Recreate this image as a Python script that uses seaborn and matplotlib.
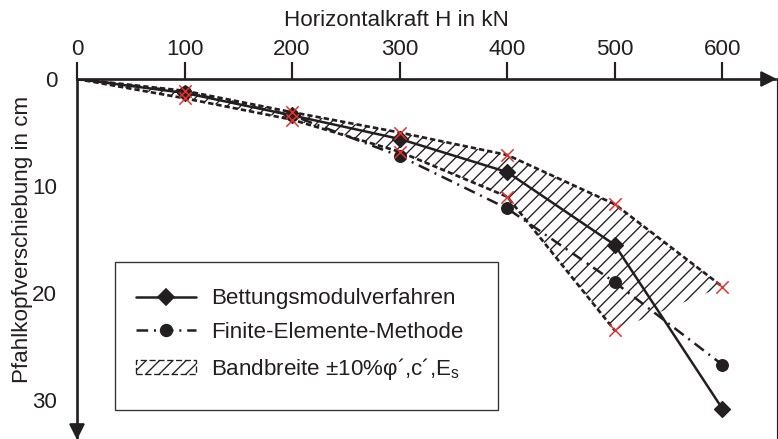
import numpy as np
import pandas as pd
import matplotlib
matplotlib.use("Agg")
import matplotlib.pyplot as plt
import matplotlib.transforms as mtransforms
from matplotlib.patches import Patch, Rectangle
from matplotlib.lines import Line2D
import seaborn as sns

# ---- data ----
H = [0, 100, 200, 300, 400, 500, 600]
bettung = [0, 1.3, 3.4, 5.6, 8.7, 15.5, 30.8]
fem = [0, 1.2, 3.4, 7.2, 12.1, 19.0, 26.7]
H_band_upper = [0, 100, 200, 300, 400, 500, 600]
band_upper = [0, 1.1, 3.1, 5.0, 7.1, 11.7, 19.4]
H_band_lower = [0, 100, 200, 300, 400, 500]
band_lower = [0, 1.8, 3.8, 6.8, 11.0, 23.5]
x_ticks = [0, 100, 200, 300, 400, 500, 600]
y_ticks = [0, 10, 20, 30]

label_bett = "Bettungsmodulverfahren"
label_fem = "Finite-Elemente-Methode"
label_band = r"Bandbreite ±10%φ´,c´,E$_\mathregular{s}$"
xlabel = "Horizontalkraft H in kN"
ylabel = "Pfahlkopfverschiebung in cm"

sns.set_theme(style="white")
plt.rcParams["font.family"] = ["Liberation Sans", "DejaVu Sans"]
plt.rcParams["mathtext.fontset"] = "custom"
plt.rcParams["mathtext.rm"] = "Liberation Sans"
plt.rcParams["hatch.linewidth"] = 0.8
plt.rcParams["lines.scale_dashes"] = False

INK = "#231f20"
RED = "#e8302a"
FS = 13.4
W, Hpx, DPI = 778, 439, 120

fig = plt.figure(figsize=(W / DPI, Hpx / DPI), dpi=DPI)
ax_l, ax_r, ax_t, ax_b = 77, 775, 79, 438
ax = fig.add_axes([ax_l / W, 1 - ax_b / Hpx, (ax_r - ax_l) / W, (ax_b - ax_t) / Hpx])

# hatched band
poly_x = list(H_band_upper) + list(H_band_lower[::-1])
poly_y = list(band_upper) + list(band_lower[::-1])
ax.fill(poly_x, poly_y, facecolor="none", edgecolor=INK, hatch="///", linewidth=0, zorder=1)

band_ls = (0, (3.2, 1.8))
sns.lineplot(x=H_band_upper, y=band_upper, ax=ax, color=INK, lw=1.6, linestyle=band_ls, zorder=2)
sns.lineplot(x=H_band_lower, y=band_lower, ax=ax, color=INK, lw=1.6, linestyle=band_ls, zorder=2)

# main series
sns.lineplot(x=H, y=bettung, ax=ax, color=INK, lw=1.5, marker="D", markersize=7,
             markeredgecolor=INK, markevery=slice(1, None), zorder=4)
fem_ls = (0, (7.0, 3.5, 1.2, 3.5))
sns.lineplot(x=H, y=fem, ax=ax, color=INK, lw=1.5, linestyle=fem_ls, marker="o",
             markersize=7, markeredgecolor=INK, markevery=slice(1, None), zorder=4)

# red band markers (none at the origin)
sns.scatterplot(x=H_band_upper[1:], y=band_upper[1:], ax=ax, marker="x", color=RED, s=55,
                linewidth=0.9, zorder=5)
sns.scatterplot(x=H_band_lower[1:], y=band_lower[1:], ax=ax, marker="x", color=RED, s=55,
                linewidth=0.9, zorder=5)

# axes styling
ax.set_xlim(0, 649)
ax.set_ylim(33.55, 0)
ax.xaxis.tick_top()
ax.set_xticks(x_ticks)
ax.set_yticks(y_ticks)
ax.tick_params(axis="x", direction="out", length=10, width=1.3, pad=1.2, labelsize=FS,
               colors=INK)
ax.tick_params(axis="y", direction="out", length=9.5, width=1.6, pad=2.4, labelsize=FS,
               colors=INK)
for s in ["bottom", "right"]:
    ax.spines[s].set_visible(False)
for s in ["top", "left"]:
    ax.spines[s].set_color(INK)
    ax.spines[s].set_linewidth(1.6)
ax.set_xlabel("")
ax.set_ylabel("")
ax.grid(False)
ax.patch.set_alpha(0)

# arrowheads
ms_arrow = 8
tr_x = mtransforms.offset_copy(ax.transAxes, fig=fig, x=-ms_arrow / 2, y=0, units="points")
ax.plot([1], [1], marker=">", ms=ms_arrow, color=INK, transform=tr_x, clip_on=False)
tr_y = mtransforms.offset_copy(ax.transAxes, fig=fig, x=0, y=ms_arrow / 2, units="points")
ax.plot([0], [0], marker="v", ms=ms_arrow, color=INK, transform=tr_y, clip_on=False)

# thin right border line
fig.add_artist(Line2D([777 / W, 777 / W], [0, 1 - 78 / Hpx], transform=fig.transFigure,
                      lw=0.7, color=INK))

# axis titles
fig.text(396 / W, 1 - 21 / Hpx, xlabel, ha="center", va="center", fontsize=FS, color=INK)
fig.text(23 / W, 1 - 239 / Hpx, ylabel, ha="center", va="center", rotation=90,
         fontsize=FS, color=INK)

# legend
handles = [
    Line2D([], [], color=INK, lw=1.5, marker="D", markersize=7),
    Line2D([], [], color=INK, lw=1.5, linestyle=fem_ls, marker="o", markersize=7),
    Patch(facecolor="none", edgecolor=INK, hatch="///", linestyle="--", linewidth=0.8),
]
leg = ax.legend(handles, [label_bett, label_fem, label_band], loc="upper left",
                bbox_to_anchor=(136 / W, 1 - 288 / Hpx), bbox_transform=fig.transFigure,
                frameon=False, borderpad=0, borderaxespad=0, fontsize=FS,
                handlelength=2.7, handletextpad=0.65, labelspacing=0.58, handleheight=0.6)
for t in leg.get_texts():
    t.set_color(INK)
fig.add_artist(Rectangle((115 / W, 1 - 410 / Hpx), (498 - 115) / W, (410 - 262) / Hpx,
                         transform=fig.transFigure, fill=False, lw=0.8, edgecolor="#333333"))

fig.savefig("out.png", dpi=DPI)
